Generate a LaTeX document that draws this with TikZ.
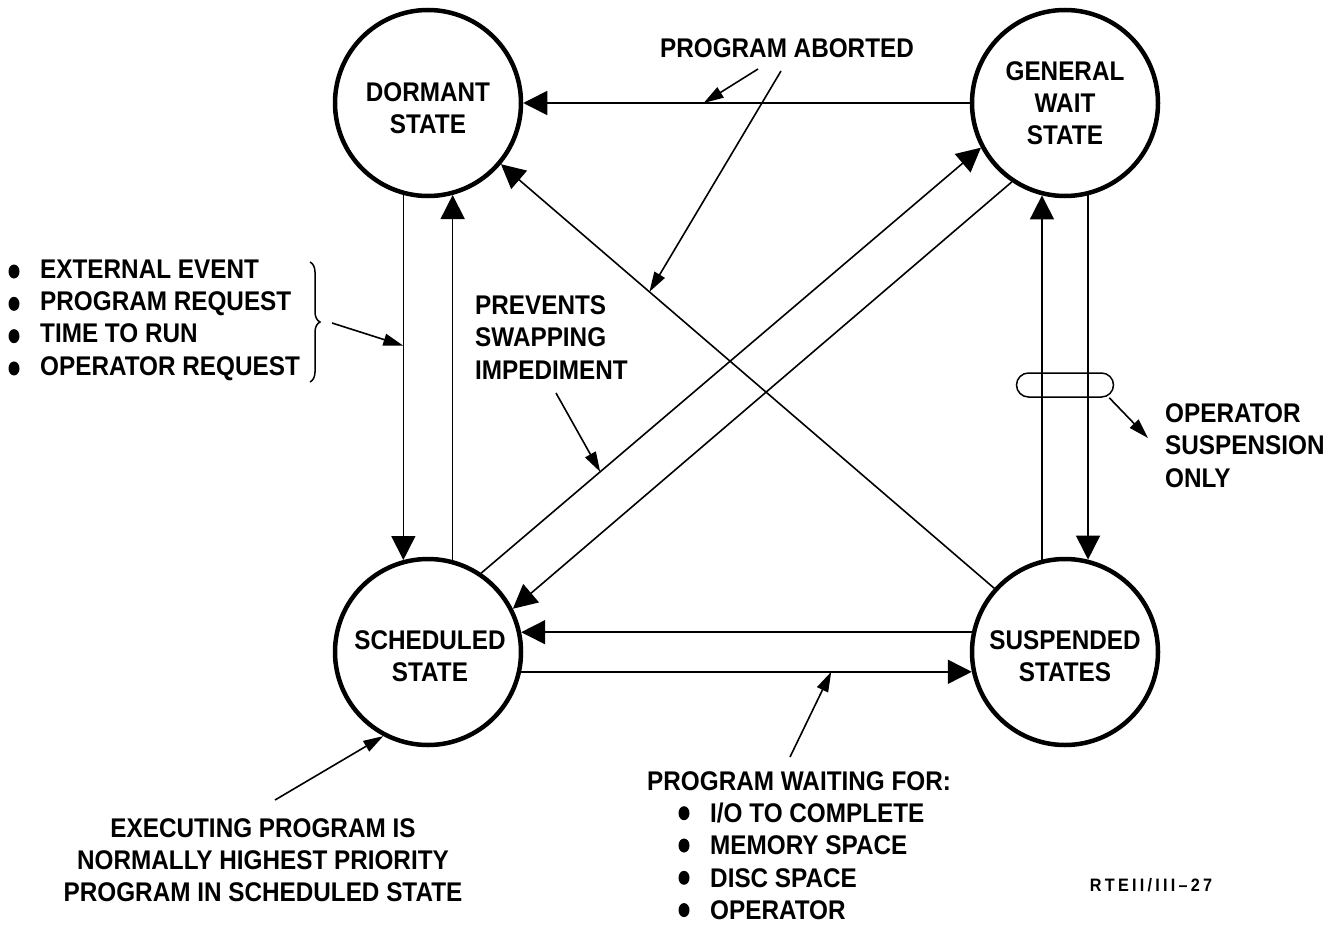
\documentclass[tikz,border=0pt]{standalone}
\usepackage{fontspec}
\usetikzlibrary{arrows.meta,calc,decorations.pathreplacing}
\newfontfamily\labfont{Liberation Sans}[FakeStretch=0.9]
\newfontfamily\tagfont{Liberation Sans}[FakeStretch=0.9,LetterSpace=18]

\begin{document}
\begin{tikzpicture}[x=1pt,y=-1pt,
  stateCircle/.style={circle, draw, line width=4.5pt, minimum size=186pt, inner sep=0pt},
  stateText/.style={align=center, inner sep=0pt, font=\labfont\bfseries\fontsize{27}{32}\selectfont},
  noteText/.style={inner sep=0pt, font=\labfont\bfseries\fontsize{27}{32.3}\selectfont},
  flowArrow/.style={line width=1.6pt, -{Triangle[length=24pt,width=24pt]}},
  noteArrow/.style={line width=1.6pt, -{Triangle[length=20pt,width=12pt]}},
]
\useasboundingbox (0,0) rectangle (1331,926);

% the four states
\node[stateCircle] (dormant) at (428,103) {};
\node[stateCircle] (gw)      at (1065,103) {};
\node[stateCircle] (sched)   at (428,652) {};
\node[stateCircle] (susp)    at (1065,652) {};
\node[stateText] (dormantT) at (428,108)  {DORMANT\\STATE};
\node[stateText] (gwT)      at (1065,103) {GENERAL\\WAIT\\STATE};
\node[stateText] (schedT)   at (430,656)  {SCHEDULED\\STATE};
\node[stateText] (suspT)    at (1065,656) {SUSPENDED\\STATES};

% transitions
\draw[flowArrow] (gw.west) -- (dormant.east) coordinate[pos=0.596] (abortLine);
\draw[flowArrow] (dormant.255) -- (sched.105) coordinate[pos=0.413] (braceLine);
\draw[flowArrow] (sched.75) -- (dormant.285);
\draw[flowArrow] (susp.104) -- (gw.256);
\draw[flowArrow] (gw.284) -- (susp.76);
\draw[flowArrow] (susp.168) -- (sched.12);
\draw[flowArrow] (sched.-12) -- (susp.192) coordinate[pos=0.688] (waitLine);
\draw[flowArrow] (sched.56) -- (gw.208) coordinate[pos=0.238] (prevLine);
\draw[flowArrow] (gw.236) -- (sched.27);
\draw[flowArrow] (susp.138) -- (dormant.320) coordinate[pos=0.699] (abortDiag);

% operator suspension marker on the right pair
\node[draw, line width=1.5pt, rounded corners=12pt, minimum width=97pt,
      minimum height=24pt, inner sep=0pt] (capsule) at (1065,385) {};

% annotations
\node[noteText] (aborted) at (787,48) {PROGRAM ABORTED};
\node[noteText, align=left, anchor=west] (prevents) at (475,337.5)
  {PREVENTS\\SWAPPING\\IMPEDIMENT};
\node[noteText, align=left, anchor=west] (causes) at (40,320)
  {EXTERNAL EVENT\\PROGRAM REQUEST\\TIME TO RUN\\OPERATOR REQUEST};
\node[noteText, align=left, anchor=west] (opsusp) at (1165,445.5)
  {OPERATOR\\SUSPENSION\\ONLY};
\node[noteText, align=left, anchor=west] (waiting) at (647,845.5)
  {PROGRAM WAITING FOR:\\
   \hspace*{63pt}I/O TO COMPLETE\\
   \hspace*{63pt}MEMORY SPACE\\
   \hspace*{63pt}DISC SPACE\\
   \hspace*{63pt}OPERATOR};
\node[noteText, align=center] (executing) at (263,860)
  {EXECUTING PROGRAM IS\\NORMALLY HIGHEST PRIORITY\\PROGRAM IN SCHEDULED STATE};
\node[inner sep=0pt, font=\tagfont\bfseries\fontsize{18}{20}\selectfont] (tag) at (1151,885) {RTEII/III–27};

% list bullets
\foreach \yy in {271.5,303.85,336.15,368.45}
  \fill (14,\yy) ellipse (5.5 and 7);
\foreach \yy in {813.2,845.5,877.8,910.1}
  \fill (684,\yy) ellipse (5.5 and 7);

% brace grouping the start causes
\draw[line width=1.5pt, decorate, decoration={brace, amplitude=10pt}] (310,262) -- (310,382);

% free ends of the annotation arrows
\coordinate (abA) at (758,69);
\coordinate (abB) at (781,71);
\coordinate (prevS) at (556,393);
\coordinate (braceTip) at (332,323);
\coordinate (waitS) at (790,757);
\coordinate (execS) at (275,800);
\coordinate (opsTip) at (1148,438);

\draw[noteArrow] (abA) -- (abortLine);
\draw[noteArrow] (abB) -- (abortDiag);
\draw[noteArrow] (prevS) -- (prevLine);
\draw[noteArrow] (braceTip) -- (braceLine);
\draw[noteArrow] (waitS) -- (waitLine);
\draw[noteArrow] (execS) -- (sched.242);
\draw[noteArrow] ([xshift=-5pt]capsule.south east) -- (opsTip);
\end{tikzpicture}
\end{document}
